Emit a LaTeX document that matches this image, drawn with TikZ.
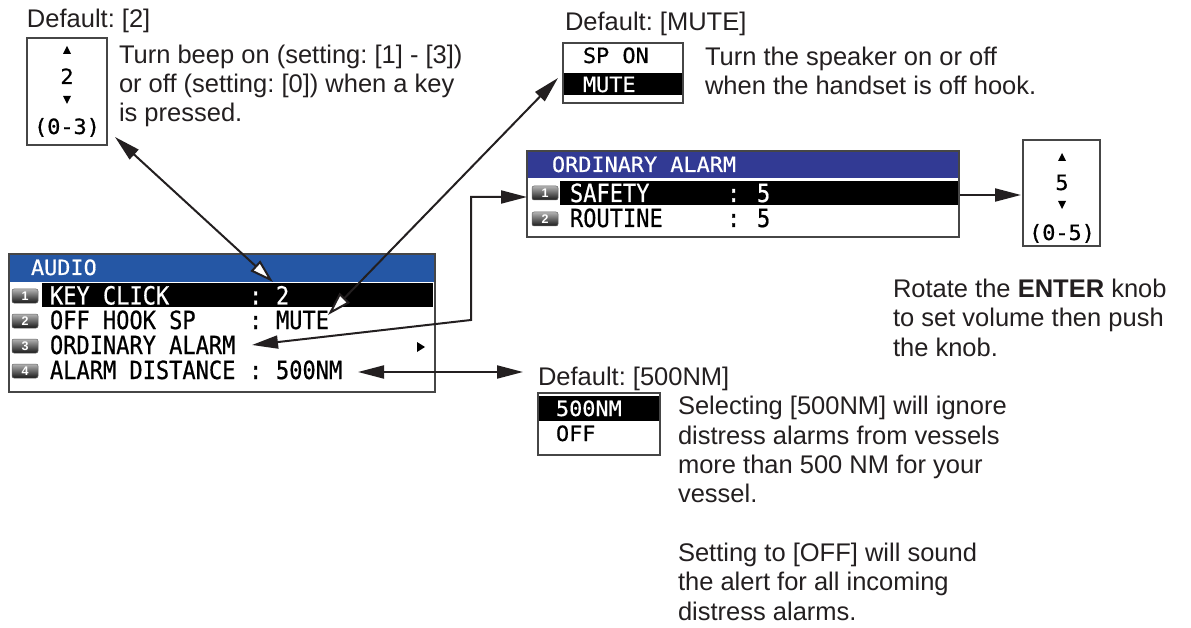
\documentclass[tikz,border=0pt]{standalone}
\usepackage{fontspec}
\setmainfont{Liberation Sans}
\newfontfamily\lcdfont{DejaVu Sans Mono}[FakeStretch=0.88,FakeBold=0.6]
\newfontfamily\lcdsmall{DejaVu Sans Mono}[FakeStretch=1.04,FakeBold=0.6]
\usetikzlibrary{arrows.meta}
\definecolor{audioblue}{RGB}{37,87,165}
\definecolor{ordblue}{RGB}{50,58,148}
\definecolor{framec}{RGB}{70,70,70}
\definecolor{txt}{RGB}{35,31,32}
\tikzset{
 every node/.style={inner sep=0pt, outer sep=0pt},
 desc/.style={anchor=base west, align=left, font=\frenchspacing\fontsize{25.5}{29.3}\selectfont, text=txt},
 lcd/.style={anchor=base west, font=\lcdfont\fontsize{25}{25}\selectfont, text=black},
 lcdw/.style={lcd, text=white},
 lcdsm/.style={anchor=base west, font=\lcdsmall\fontsize{21}{21}\selectfont, text=black},
 lcdsmw/.style={lcdsm, text=white},
 panel/.style={draw=framec, line width=1.5pt, fill=white, anchor=north west},
 badge/.style={rounded corners=2pt, minimum width=26pt, minimum height=14pt, top color=gray!60, bottom color=black!90, draw=black!60, line width=0.5pt, text=white, font=\bfseries\fontsize{12.5}{12.5}\selectfont},
 conn/.style={line width=2pt, draw=txt},
 bigtip/.tip={Triangle[length=26pt,width=13pt]},
 opentip/.tip={Triangle[length=24pt,width=14pt,fill=white]},
}
\begin{document}
\begin{tikzpicture}[x=1pt,y=-1pt]
\useasboundingbox (0,0) rectangle (1191,628);
\fill[white] (0,0) rectangle (1191,628);

% ---------- spinner 1 ----------
\node[desc] (def2) at (27,28) {Default: [2]};
\node[panel, minimum width=80pt, minimum height=107pt] (spin1) at (27,38) {};
\fill (63,54) -- (71,54) -- (67,46) -- cycle;
\node[lcdsm, anchor=base] (spin1v) at (67,84) {2};
\fill (63,96) -- (71,96) -- (67,104) -- cycle;
\node[lcdsm, anchor=base] (spin1r) at (67,134) {(0-3)};
% base anchor of a multi-line node = baseline of its last line
\node[desc] (beep) at (119,122) {Turn beep on (setting: [1] - [3])\\or off (setting: [0]) when a key\\is pressed.};

% ---------- SP ON / MUTE ----------
\node[desc] (defmute) at (565,31) {Default: [MUTE]};
\node[panel, minimum width=120pt, minimum height=60pt] (spbox) at (563,43) {};
\node[lcdsm] (spon) at (583,63) {SP ON};
\fill[black] (564,73) rectangle (682,95);
\node[lcdsmw] (mute) at (583,92) {MUTE};
\node[desc] (spk) at (705,95) {Turn the speaker on or off\\when the handset is off hook.};

% ---------- ORDINARY ALARM menu ----------
\node[panel, minimum width=432pt, minimum height=86pt] (ord) at (527,151) {};
\fill[ordblue] (528,152) rectangle (958,178);
\node[lcdsmw] (ordhead) at (552,172) {ORDINARY ALARM};
\fill[black] (560,181) rectangle (958,205);
\node[badge] (ob1) at (545,193) {1};
\node[badge] (ob2) at (545,219) {2};
\node[lcdw] (saf) at (570,202) {SAFETY};
\node[lcdw] (safc) at (727,202) {:};
\node[lcdw] (safv) at (757,202) {5};
\node[lcd] (rou) at (570,227) {ROUTINE};
\node[lcd] (rouc) at (727,227) {:};
\node[lcd] (rouv) at (757,227) {5};

% ---------- spinner 2 ----------
\node[panel, minimum width=77pt, minimum height=106pt] (spin2) at (1023,140) {};
\fill (1058,161) -- (1066,161) -- (1062,153) -- cycle;
\node[lcdsm, anchor=base] (spin2v) at (1062,190) {5};
\fill (1058,201) -- (1066,201) -- (1062,209) -- cycle;
\node[lcdsm, anchor=base] (spin2r) at (1062,240) {(0-5)};
\node[desc] (rot) at (893,356) {Rotate the \textbf{ENTER} knob\\to set volume then push\\the knob.};

% ---------- AUDIO menu ----------
\node[panel, minimum width=426pt, minimum height=138pt] (audio) at (9,254) {};
\fill[audioblue] (10,255) rectangle (434,282);
\node[lcdsmw] (audhead) at (31,275) {AUDIO};
\fill[black] (42,283) rectangle (433,307);
\node[badge] (ab1) at (25,296) {1};
\node[badge] (ab2) at (25,321) {2};
\node[badge] (ab3) at (25,346) {3};
\node[badge] (ab4) at (25,371) {4};
\node[lcdw] (key) at (50,304.5) {KEY CLICK};
\node[lcdw] (keyc) at (249,304.5) {:};
\node[lcdw] (keyv) at (276,304.5) {2};
\node[lcd] (hook) at (50,329) {OFF HOOK SP};
\node[lcd] (hookc) at (249,329) {:};
\node[lcd] (hookv) at (276,329) {MUTE};
\node[lcd] (ordi) at (50,354) {ORDINARY ALARM};
\fill (417,342) -- (417,352) -- (425,347) -- cycle;
\node[lcd] (dist) at (50,379) {ALARM DISTANCE};
\node[lcd] (distc) at (249,379) {:};
\node[lcd] (distv) at (276,379) {500NM};

% ---------- 500NM / OFF ----------
\node[desc] (def500) at (538,385) {Default: [500NM]};
\node[panel, minimum width=122pt, minimum height=62pt] (nmbox) at (538,393) {};
\fill[black] (539,396) rectangle (659,421);
\node[lcdsmw] (nm500) at (556,416) {500NM};
\node[lcdsm] (nmoff) at (556,441) {OFF};
\node[desc] (sel) at (678,620) {Selecting [500NM] will ignore\\distress alarms from vessels\\more than 500 NM for your\\vessel.\\[29.3pt]Setting to [OFF] will sound\\the alert for all incoming\\distress alarms.};

% ---------- connectors ----------
\coordinate (s1tip) at (115,137);
\coordinate (keytop) at (273,282);
\coordinate (mutetip) at (328,315);
\coordinate (spboxtip) at (558,78);
\coordinate (ordin) at (527,197);
\coordinate (elA) at (471,197);
\coordinate (elB) at (471,320);
\coordinate (orditip) at (252,345);
\coordinate (disttip) at (358,372);
\coordinate (def500tip) at (523,372);
\coordinate (ordout) at (960,195);
\coordinate (spin2in) at (1021,195);

\draw[conn, {bigtip}-{opentip}] (s1tip) -- (keytop);
\draw[conn, {opentip}-{bigtip}] (mutetip) -- (spboxtip);
\draw[conn, {bigtip}-{bigtip}] (ordin) -- (elA) -- (elB) -- (orditip);
\draw[conn, {bigtip}-{bigtip}] (disttip) -- (def500tip);
\draw[conn, -{bigtip}] (ordout) -- (spin2in);
\end{tikzpicture}
\end{document}
